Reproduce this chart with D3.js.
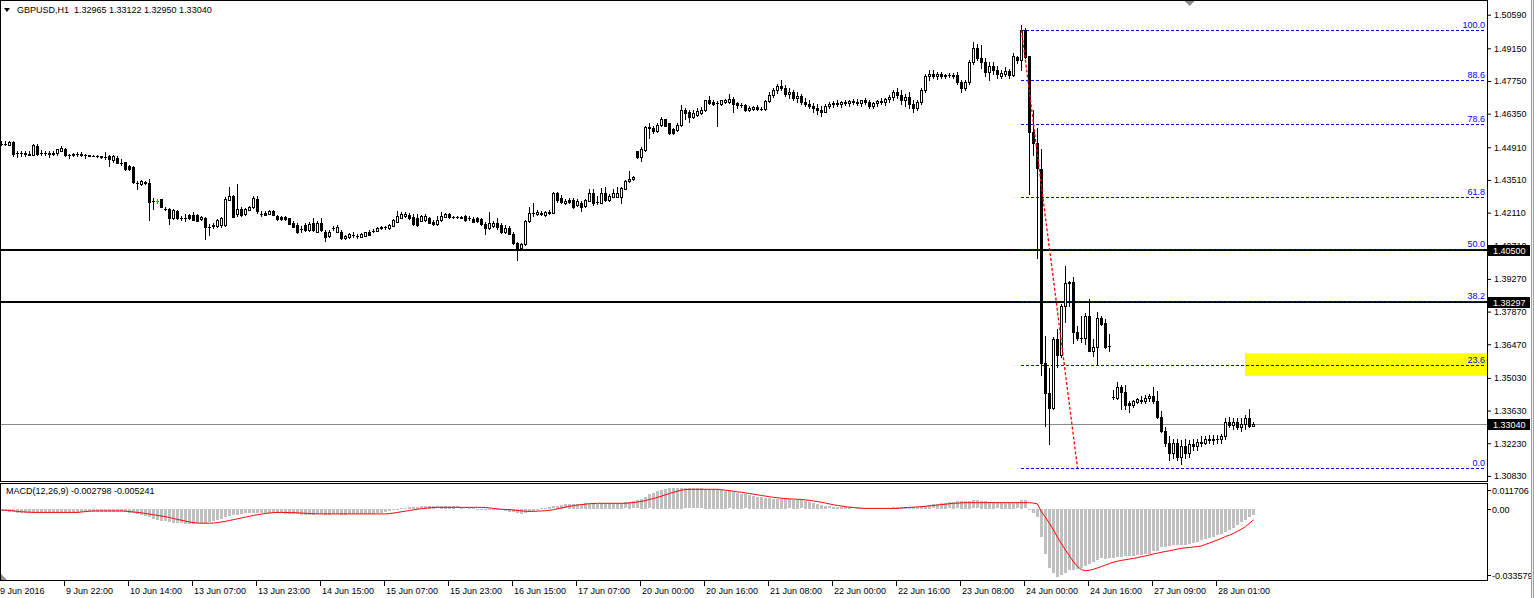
<!DOCTYPE html>
<html><head><meta charset="utf-8">
<script src="https://cdn.jsdelivr.net/npm/d3@7"></script>
<style>
html,body{margin:0;padding:0;background:#fff;overflow:hidden;}
svg{display:block;font-family:"Liberation Sans",Arial,sans-serif;}
</style></head><body>
<svg id="chart" width="1534" height="598"></svg>
<script>
// ---------------- DATA (GBPUSD H1) ----------------
const symbol = "GBPUSD,H1";
const lastQuote = ["1.32965", "1.33122", "1.32950", "1.33040"];
const macdTitle = "MACD(12,26,9) -0.002798 -0.005241";

const open = [
1.4507,1.4506,1.4502,1.4515,1.4467,1.4468,1.4467,1.4464,1.4459,1.4496,
1.4467,1.4468,1.4467,1.4464,1.4468,1.4477,1.4485,1.4456,1.4457,1.4461,
1.4463,1.4459,1.4456,1.4455,1.4453,1.4452,1.4450,1.4453,1.4435,1.4444,
1.4425,1.4427,1.4410,1.4406,1.4339,1.4332,1.4338,1.4339,1.4261,1.4261,
1.4268,1.4225,1.4228,1.4186,1.4218,1.4186,1.4190,1.4200,1.4200,1.4200,
1.4183,1.4190,1.4151,1.4155,1.4154,1.4157,1.4157,1.4265,1.4282,1.4203,
1.4228,1.4203,1.4222,1.4233,1.4271,1.4207,1.4211,1.4206,1.4218,1.4197,
1.4192,1.4192,1.4186,1.4168,1.4158,1.4140,1.4158,1.4136,1.4168,1.4130,
1.4168,1.4130,1.4111,1.4147,1.4130,1.4130,1.4101,1.4107,1.4115,1.4111,
1.4107,1.4111,1.4130,1.4133,1.4133,1.4144,1.4148,1.4143,1.4154,1.4172,
1.4190,1.4195,1.4201,1.4192,1.4190,1.4175,1.4178,1.4187,1.4172,1.4161,
1.4178,1.4192,1.4204,1.4192,1.4193,1.4191,1.4197,1.4187,1.4183,1.4187,
1.4183,1.4164,1.4144,1.4154,1.4168,1.4158,1.4126,1.4144,1.4118,1.4079,
1.4061,1.4076,1.4173,1.4208,1.4203,1.4211,1.4200,1.4211,1.4211,1.4294,
1.4275,1.4251,1.4265,1.4265,1.4242,1.4254,1.4240,1.4261,1.4294,1.4256,
1.4254,1.4297,1.4265,1.4279,1.4279,1.4279,1.4313,1.4346,1.4353,1.4474,
1.4450,1.4481,1.4578,1.4574,1.4560,1.4588,1.4610,1.4593,1.4570,1.4564,
1.4588,1.4652,1.4641,1.4621,1.4631,1.4638,1.4649,1.4692,1.4686,1.4681,
1.4678,1.4686,1.4686,1.4698,1.4681,1.4674,1.4672,1.4649,1.4655,1.4664,
1.4655,1.4657,1.4691,1.4716,1.4738,1.4755,1.4746,1.4721,1.4729,1.4704,
1.4712,1.4686,1.4678,1.4669,1.4661,1.4652,1.4644,1.4669,1.4678,1.4682,
1.4678,1.4686,1.4682,1.4691,1.4686,1.4682,1.4695,1.4686,1.4669,1.4682,
1.4691,1.4686,1.4699,1.4708,1.4729,1.4716,1.4695,1.4708,1.4678,1.4661,
1.4686,1.4738,1.4797,1.4806,1.4797,1.4806,1.4797,1.4802,1.4797,1.4802,
1.4772,1.4746,1.4772,1.4857,1.4917,1.4874,1.4857,1.4815,1.4840,1.4823,
1.4795,1.4806,1.4819,1.4802,1.4877,1.4863,1.4994,1.4880,1.4555,1.4510,
1.4399,1.3568,1.3440,1.3374,1.3670,1.3599,1.3810,1.3909,1.3912,1.3701,
1.3674,1.3673,1.3767,1.3620,1.3635,1.3758,1.3739,1.3640,1.3421,1.3417,
1.3464,1.3443,1.3397,1.3388,1.3399,1.3410,1.3406,1.3418,1.3427,1.3406,
1.3337,1.3277,1.3226,1.3179,1.3222,1.3166,1.3209,1.3179,1.3218,1.3209,
1.3230,1.3222,1.3243,1.3235,1.3243,1.3239,1.3252,1.3316,1.3303,1.3312,
1.3294,1.3307,1.3329,1.32965];

const high = [
1.4516,1.4516,1.4520,1.4520,1.4474,1.4477,1.4473,1.4477,1.4507,1.4503,
1.4479,1.4477,1.4473,1.4474,1.4477,1.4496,1.4490,1.4464,1.4467,1.4469,
1.4469,1.4464,1.4459,1.4457,1.4456,1.4453,1.4470,1.4460,1.4456,1.4452,
1.4439,1.4430,1.4413,1.4409,1.4346,1.4349,1.4345,1.4353,1.4272,1.4268,
1.4271,1.4234,1.4231,1.4225,1.4221,1.4195,1.4204,1.4204,1.4214,1.4204,
1.4195,1.4193,1.4161,1.4168,1.4184,1.4191,1.4277,1.4322,1.4285,1.4332,
1.4234,1.4230,1.4238,1.4281,1.4281,1.4218,1.4217,1.4221,1.4221,1.4200,
1.4195,1.4195,1.4190,1.4174,1.4165,1.4154,1.4165,1.4170,1.4190,1.4174,
1.4190,1.4136,1.4136,1.4154,1.4157,1.4136,1.4114,1.4123,1.4126,1.4120,
1.4123,1.4130,1.4136,1.4140,1.4148,1.4153,1.4154,1.4161,1.4183,1.4218,
1.4212,1.4212,1.4208,1.4204,1.4204,1.4201,1.4204,1.4191,1.4178,1.4195,
1.4212,1.4208,1.4208,1.4197,1.4197,1.4195,1.4201,1.4195,1.4191,1.4191,
1.4187,1.4170,1.4212,1.4174,1.4190,1.4165,1.4157,1.4153,1.4127,1.4084,
1.4080,1.4178,1.4233,1.4254,1.4221,1.4217,1.4217,1.4221,1.4298,1.4298,
1.4285,1.4268,1.4272,1.4272,1.4268,1.4259,1.4268,1.4311,1.4311,1.4281,
1.4318,1.4319,1.4289,1.4311,1.4320,1.4319,1.4350,1.4389,1.4370,1.4477,
1.4491,1.4584,1.4593,1.4580,1.4593,1.4621,1.4614,1.4597,1.4575,1.4593,
1.4674,1.4661,1.4652,1.4652,1.4661,1.4665,1.4695,1.4712,1.4695,1.4691,
1.4695,1.4699,1.4721,1.4708,1.4686,1.4682,1.4678,1.4669,1.4669,1.4674,
1.4665,1.4695,1.4729,1.4746,1.4763,1.4780,1.4759,1.4746,1.4738,1.4729,
1.4721,1.4704,1.4695,1.4682,1.4678,1.4669,1.4678,1.4686,1.4691,1.4695,
1.4691,1.4695,1.4695,1.4699,1.4699,1.4695,1.4704,1.4695,1.4686,1.4695,
1.4704,1.4704,1.4716,1.4738,1.4746,1.4738,1.4721,1.4729,1.4695,1.4695,
1.4746,1.4806,1.4823,1.4823,1.4815,1.4815,1.4806,1.4810,1.4810,1.4815,
1.4780,1.4780,1.4866,1.4943,1.4934,1.4930,1.4874,1.4857,1.4857,1.4840,
1.4823,1.4835,1.4827,1.4894,1.4883,1.5015,1.5002,1.4883,1.4649,1.4574,
1.4482,1.3682,1.3545,1.3679,1.3713,1.3820,1.3981,1.3919,1.3934,1.3725,
1.3769,1.3781,1.3841,1.3670,1.3784,1.3767,1.3756,1.3692,1.3449,1.3485,
1.3474,1.3474,1.3406,1.3410,1.3418,1.3427,1.3431,1.3435,1.3465,1.3448,
1.3363,1.3294,1.3252,1.3243,1.3243,1.3235,1.3243,1.3235,1.3243,1.3243,
1.3252,1.3252,1.3260,1.3260,1.3260,1.3264,1.3329,1.3337,1.3329,1.3333,
1.3329,1.3346,1.3371,1.33122];

const low = [
1.4499,1.4499,1.4499,1.4452,1.4450,1.4452,1.4452,1.4456,1.4456,1.4460,
1.4459,1.4456,1.4450,1.4456,1.4460,1.4473,1.4452,1.4447,1.4452,1.4453,
1.4452,1.4447,1.4452,1.4452,1.4450,1.4447,1.4441,1.4409,1.4430,1.4422,
1.4417,1.4392,1.4392,1.4336,1.4311,1.4328,1.4335,1.4179,1.4225,1.4254,
1.4234,1.4221,1.4161,1.4183,1.4183,1.4178,1.4175,1.4183,1.4178,1.4174,
1.4178,1.4097,1.4114,1.4144,1.4148,1.4148,1.4153,1.4264,1.4191,1.4195,
1.4195,1.4200,1.4221,1.4230,1.4208,1.4195,1.4200,1.4204,1.4200,1.4178,
1.4180,1.4180,1.4161,1.4148,1.4122,1.4126,1.4131,1.4131,1.4131,1.4127,
1.4131,1.4090,1.4106,1.4136,1.4127,1.4097,1.4097,1.4103,1.4107,1.4103,
1.4106,1.4110,1.4114,1.4126,1.4131,1.4140,1.4141,1.4140,1.4153,1.4170,
1.4187,1.4191,1.4183,1.4157,1.4154,1.4174,1.4174,1.4165,1.4157,1.4157,
1.4174,1.4191,1.4188,1.4188,1.4188,1.4187,1.4174,1.4178,1.4170,1.4171,
1.4157,1.4118,1.4140,1.4148,1.4140,1.4122,1.4123,1.4118,1.4076,1.4008,
1.4055,1.4072,1.4170,1.4197,1.4200,1.4200,1.4195,1.4204,1.4208,1.4255,
1.4251,1.4247,1.4251,1.4230,1.4238,1.4218,1.4235,1.4259,1.4242,1.4247,
1.4251,1.4261,1.4259,1.4277,1.4277,1.4251,1.4311,1.4341,1.4349,1.4447,
1.4432,1.4474,1.4531,1.4554,1.4557,1.4584,1.4580,1.4550,1.4546,1.4561,
1.4584,1.4610,1.4598,1.4618,1.4627,1.4635,1.4648,1.4678,1.4674,1.4581,
1.4674,1.4682,1.4682,1.4640,1.4661,1.4665,1.4648,1.4647,1.4652,1.4652,
1.4651,1.4652,1.4686,1.4708,1.4725,1.4738,1.4712,1.4704,1.4695,1.4686,
1.4678,1.4669,1.4661,1.4644,1.4635,1.4627,1.4640,1.4661,1.4665,1.4669,
1.4665,1.4674,1.4669,1.4678,1.4674,1.4669,1.4678,1.4661,1.4661,1.4669,
1.4678,1.4674,1.4686,1.4695,1.4704,1.4678,1.4669,1.4661,1.4644,1.4652,
1.4678,1.4729,1.4780,1.4789,1.4785,1.4789,1.4789,1.4793,1.4789,1.4763,
1.4729,1.4738,1.4763,1.4849,1.4866,1.4832,1.4797,1.4780,1.4806,1.4789,
1.4789,1.4795,1.4788,1.4797,1.4852,1.4823,1.4874,1.4292,1.4460,1.4015,
1.3517,1.3298,1.3218,1.3371,1.3549,1.3593,1.3744,1.3810,1.3653,1.3667,
1.3656,1.3649,1.3619,1.3597,1.3563,1.3730,1.3632,1.3616,1.3414,1.3414,
1.3371,1.3368,1.3357,1.3380,1.3397,1.3397,1.3397,1.3406,1.3397,1.3329,
1.3269,1.3213,1.3149,1.3158,1.3149,1.3132,1.3158,1.3166,1.3192,1.3192,
1.3209,1.3218,1.3226,1.3218,1.3226,1.3226,1.3243,1.3294,1.3286,1.3286,
1.3277,1.3286,1.3294,1.32950];

const close = [
1.4506,1.4507,1.4515,1.4464,1.4468,1.4467,1.4464,1.4460,1.4500,1.4464,
1.4468,1.4467,1.4464,1.4468,1.4482,1.4489,1.4456,1.4457,1.4461,1.4463,
1.4459,1.4457,1.4455,1.4453,1.4452,1.4450,1.4449,1.4439,1.4452,1.4425,
1.4424,1.4399,1.4396,1.4342,1.4340,1.4346,1.4341,1.4257,1.4260,1.4261,
1.4237,1.4226,1.4186,1.4221,1.4186,1.4187,1.4189,1.4186,1.4180,1.4176,
1.4194,1.4151,1.4150,1.4157,1.4180,1.4186,1.4268,1.4282,1.4194,1.4228,
1.4200,1.4225,1.4234,1.4275,1.4216,1.4206,1.4201,1.4218,1.4201,1.4183,
1.4183,1.4183,1.4164,1.4150,1.4130,1.4139,1.4136,1.4164,1.4136,1.4168,
1.4136,1.4107,1.4130,1.4146,1.4150,1.4101,1.4111,1.4118,1.4116,1.4110,
1.4118,1.4126,1.4115,1.4132,1.4144,1.4151,1.4149,1.4158,1.4178,1.4197,
1.4204,1.4207,1.4187,1.4161,1.4158,1.4197,1.4197,1.4168,1.4161,1.4178,
1.4197,1.4204,1.4192,1.4193,1.4191,1.4190,1.4178,1.4186,1.4171,1.4175,
1.4161,1.4143,1.4168,1.4168,1.4150,1.4126,1.4144,1.4121,1.4079,1.4061,
1.4076,1.4173,1.4211,1.4210,1.4214,1.4203,1.4214,1.4212,1.4294,1.4265,
1.4255,1.4262,1.4255,1.4233,1.4259,1.4233,1.4265,1.4297,1.4251,1.4257,
1.4297,1.4265,1.4282,1.4297,1.4297,1.4316,1.4346,1.4356,1.4365,1.4450,
1.4484,1.4578,1.4572,1.4560,1.4588,1.4610,1.4584,1.4553,1.4553,1.4588,
1.4652,1.4638,1.4621,1.4638,1.4645,1.4652,1.4692,1.4681,1.4678,1.4680,
1.4692,1.4695,1.4698,1.4678,1.4672,1.4673,1.4652,1.4661,1.4664,1.4655,
1.4656,1.4691,1.4716,1.4738,1.4755,1.4746,1.4721,1.4729,1.4704,1.4712,
1.4686,1.4678,1.4669,1.4661,1.4652,1.4644,1.4669,1.4678,1.4682,1.4678,
1.4686,1.4682,1.4691,1.4686,1.4682,1.4695,1.4686,1.4669,1.4682,1.4691,
1.4686,1.4699,1.4708,1.4729,1.4716,1.4695,1.4708,1.4678,1.4661,1.4686,
1.4738,1.4797,1.4806,1.4797,1.4806,1.4797,1.4802,1.4800,1.4802,1.4772,
1.4746,1.4772,1.4857,1.4917,1.4874,1.4857,1.4815,1.4840,1.4823,1.4806,
1.4811,1.4819,1.4802,1.4883,1.4863,1.4994,1.4877,1.4555,1.4510,1.4403,
1.3568,1.3440,1.3374,1.3670,1.3599,1.3810,1.3909,1.3915,1.3701,1.3673,
1.3675,1.3767,1.3620,1.3635,1.3758,1.3734,1.3635,1.3638,1.3420,1.3464,
1.3443,1.3385,1.3388,1.3402,1.3411,1.3406,1.3418,1.3427,1.3406,1.3337,
1.3277,1.3226,1.3179,1.3222,1.3166,1.3209,1.3179,1.3218,1.3209,1.3230,
1.3222,1.3243,1.3235,1.3243,1.3239,1.3252,1.3316,1.3303,1.3312,1.3294,
1.3307,1.3329,1.3297,1.33040];

// MACD main (histogram) and signal line
const macdMain = [
-0.0010,-0.0010,-0.0012,-0.0016,-0.0018,-0.0018,-0.0018,-0.0018,-0.0018,-0.0017,
-0.0017,-0.0017,-0.0017,-0.0017,-0.0017,-0.0017,-0.0017,-0.0017,-0.0017,-0.0017,
-0.0013,-0.0012,-0.0012,-0.0012,-0.0012,-0.0012,-0.0012,-0.0012,-0.0012,-0.0012,
-0.0014,-0.0016,-0.0018,-0.0020,-0.0025,-0.0030,-0.0035,-0.0040,-0.0045,-0.0050,
-0.0055,-0.0058,-0.0061,-0.0064,-0.0066,-0.0068,-0.0069,-0.0069,-0.0069,-0.0068,
-0.0066,-0.0064,-0.0062,-0.0058,-0.0053,-0.0047,-0.0040,-0.0034,-0.0030,-0.0026,
-0.0023,-0.0020,-0.0018,-0.0018,-0.0019,-0.0019,-0.0019,-0.0020,-0.0020,-0.0021,
-0.0021,-0.0022,-0.0023,-0.0024,-0.0025,-0.0026,-0.0026,-0.0026,-0.0026,-0.0025,
-0.0025,-0.0026,-0.0026,-0.0025,-0.0025,-0.0026,-0.0026,-0.0025,-0.0025,-0.0024,
-0.0024,-0.0023,-0.0023,-0.0022,-0.0020,-0.0018,-0.0015,-0.0010,-0.0005,0.0000,
0.0003,0.0006,0.0008,0.0009,0.0010,0.0011,0.0012,0.0012,0.0012,0.0011,
0.0012,0.0013,0.0013,0.0012,0.0011,0.0009,0.0007,0.0005,0.0003,0.0001,
-0.0001,-0.0002,-0.0002,-0.0003,-0.0004,-0.0005,-0.0008,-0.0012,-0.0016,-0.0020,
-0.0022,-0.0018,-0.0012,-0.0008,-0.0003,0.0002,0.0005,0.0008,0.0011,0.0014,
0.0018,0.0021,0.0023,0.0025,0.0025,0.0025,0.0026,0.0025,0.0026,0.0025,
0.0026,0.0026,0.0026,0.0027,0.0028,0.0029,0.0030,0.0032,0.0035,0.0040,
0.0048,0.0058,0.0068,0.0076,0.0084,0.0090,0.0094,0.0097,0.0098,0.0097,
0.0097,0.0096,0.0096,0.0096,0.0096,0.0096,0.0095,0.0095,0.0094,0.0092,
0.0088,0.0085,0.0082,0.0078,0.0075,0.0072,0.0068,0.0064,0.0060,0.0058,
0.0056,0.0052,0.0050,0.0048,0.0047,0.0046,0.0045,0.0044,0.0043,0.0042,
0.0040,0.0036,0.0032,0.0027,0.0022,0.0017,0.0013,0.0011,0.0010,0.0010,
0.0010,0.0009,0.0008,0.0007,0.0005,0.0004,0.0003,0.0003,0.0003,0.0003,
0.0004,0.0005,0.0006,0.0008,0.0010,0.0010,0.0010,0.0009,0.0009,0.0010,
0.0012,0.0015,0.0018,0.0021,0.0024,0.0026,0.0028,0.0030,0.0033,0.0035,
0.0036,0.0037,0.0038,0.0040,0.0040,0.0039,0.0036,0.0033,0.0031,0.0030,
0.0029,0.0029,0.0028,0.0029,0.0030,0.0041,0.0040,-0.0005,-0.0017,-0.0040,
-0.0131,-0.0210,-0.0276,-0.0301,-0.0320,-0.0313,-0.0301,-0.0286,-0.0286,-0.0281,
-0.0276,-0.0270,-0.0258,-0.0249,-0.0241,-0.0233,-0.0238,-0.0233,-0.0229,-0.0228,
-0.0226,-0.0224,-0.0222,-0.0220,-0.0218,-0.0216,-0.0214,-0.0212,-0.0200,-0.0196,
-0.0180,-0.0178,-0.0176,-0.0172,-0.0170,-0.0170,-0.0168,-0.0166,-0.0162,-0.0158,
-0.0148,-0.0142,-0.0136,-0.0130,-0.0125,-0.0116,-0.0108,-0.0100,-0.0088,-0.0076,
-0.0062,-0.0050,-0.0040,-0.0028];

const macdSignal = [
-0.0006,-0.0007,-0.0008,-0.0010,-0.0012,-0.0014,-0.0015,-0.0016,-0.0017,-0.0017,
-0.0017,-0.0017,-0.0017,-0.0017,-0.0017,-0.0017,-0.0017,-0.0017,-0.0017,-0.0017,
-0.0015,-0.0013,-0.0011,-0.0010,-0.0010,-0.0010,-0.0010,-0.0010,-0.0010,-0.0010,
-0.0010,-0.0011,-0.0013,-0.0015,-0.0017,-0.0019,-0.0022,-0.0025,-0.0028,-0.0031,
-0.0034,-0.0037,-0.0041,-0.0046,-0.0050,-0.0054,-0.0058,-0.0062,-0.0065,-0.0067,
-0.0068,-0.0068,-0.0068,-0.0067,-0.0065,-0.0062,-0.0059,-0.0055,-0.0051,-0.0047,
-0.0043,-0.0039,-0.0035,-0.0031,-0.0028,-0.0025,-0.0022,-0.0020,-0.0018,-0.0017,
-0.0017,-0.0017,-0.0018,-0.0018,-0.0019,-0.0020,-0.0021,-0.0022,-0.0023,-0.0024,
-0.0024,-0.0024,-0.0024,-0.0024,-0.0024,-0.0024,-0.0024,-0.0024,-0.0024,-0.0024,
-0.0024,-0.0024,-0.0024,-0.0024,-0.0024,-0.0024,-0.0024,-0.0022,-0.0020,-0.0017,
-0.0014,-0.0011,-0.0008,-0.0005,-0.0002,0.0001,0.0003,0.0005,0.0006,0.0007,
0.0007,0.0007,0.0007,0.0007,0.0007,0.0007,0.0007,0.0007,0.0007,0.0007,
0.0007,0.0006,0.0004,0.0002,0.0000,-0.0002,-0.0003,-0.0004,-0.0006,-0.0008,
-0.0010,-0.0011,-0.0012,-0.0012,-0.0011,-0.0010,-0.0009,-0.0007,-0.0004,0.0000,
0.0004,0.0008,0.0012,0.0015,0.0018,0.0020,0.0022,0.0024,0.0025,0.0026,
0.0026,0.0026,0.0026,0.0026,0.0026,0.0026,0.0026,0.0028,0.0030,0.0032,
0.0035,0.0039,0.0044,0.0049,0.0054,0.0060,0.0066,0.0072,0.0078,0.0083,
0.0088,0.0091,0.0092,0.0092,0.0092,0.0092,0.0092,0.0092,0.0092,0.0092,
0.0090,0.0088,0.0086,0.0083,0.0080,0.0078,0.0075,0.0072,0.0069,0.0066,
0.0063,0.0060,0.0057,0.0054,0.0052,0.0050,0.0048,0.0047,0.0046,0.0045,
0.0044,0.0042,0.0040,0.0037,0.0034,0.0031,0.0027,0.0023,0.0019,0.0016,
0.0013,0.0010,0.0008,0.0006,0.0004,0.0003,0.0002,0.0002,0.0002,0.0002,
0.0002,0.0002,0.0002,0.0002,0.0002,0.0004,0.0006,0.0007,0.0008,0.0009,
0.0010,0.0012,0.0014,0.0016,0.0018,0.0020,0.0022,0.0024,0.0026,0.0027,
0.0028,0.0029,0.0029,0.0029,0.0029,0.0029,0.0029,0.0029,0.0029,0.0029,
0.0029,0.0029,0.0029,0.0029,0.0029,0.0029,0.0029,0.0029,0.0027,0.0023,
-0.0015,-0.0040,-0.0069,-0.0100,-0.0135,-0.0165,-0.0195,-0.0222,-0.0250,-0.0272,
-0.0287,-0.0292,-0.0290,-0.0285,-0.0279,-0.0272,-0.0265,-0.0258,-0.0252,-0.0247,
-0.0243,-0.0240,-0.0237,-0.0234,-0.0230,-0.0226,-0.0222,-0.0218,-0.0213,-0.0209,
-0.0205,-0.0201,-0.0198,-0.0194,-0.0190,-0.0186,-0.0184,-0.0182,-0.0180,-0.0178,
-0.0175,-0.0168,-0.0161,-0.0154,-0.0147,-0.0139,-0.0131,-0.0124,-0.0116,-0.0106,
-0.0096,-0.0084,-0.0068,-0.0052];

const priceTicks = [1.50590,1.49150,1.47750,1.46350,1.44910,1.43510,1.42110,1.40710,
                    1.39270,1.37870,1.36470,1.35030,1.33630,1.32230,1.30830];
const macdTicks = [0.011706, 0.00, -0.033579];
const macdTickLabels = ["0.011706", "0.00", "-0.033579"];
const timeLabels = ["9 Jun 2016","9 Jun 22:00","10 Jun 14:00","13 Jun 07:00","13 Jun 23:00",
  "14 Jun 15:00","15 Jun 07:00","15 Jun 23:00","16 Jun 15:00","17 Jun 07:00","20 Jun 00:00",
  "20 Jun 16:00","21 Jun 08:00","22 Jun 00:00","22 Jun 16:00","23 Jun 08:00","24 Jun 00:00",
  "24 Jun 16:00","27 Jun 09:00","28 Jun 01:00"];
const timeLabelStep = 16; // one label every 16 bars

const hLevels = [1.40500, 1.38297];           // black horizontal lines
const hLevelLabels = ["1.40500", "1.38297"];
const fibHigh = 1.4994, fibLow = 1.3117;      // fibonacci anchors
const fibStartBar = 255, fibEndBar = 269;
const fibLevels = [0.0, 23.6, 38.2, 50.0, 61.8, 78.6, 88.6, 100.0];
const zoneTop = 1.3608, zoneBottom = 1.3512, zoneStartBar = 311; // yellow zone

// ---------------- DRAWING ----------------
const N = Math.min(open.length, high.length, low.length, close.length);
const W = 1534, H = 598;
const PR = 1487;            // right edge of plot panels
const mainBot = 481, macdTop = 483, macdBot = 580;

const svg = d3.select("#chart");
svg.append("rect").attr("width", W).attr("height", H).attr("fill", "#fff");

const x = d3.scaleLinear().domain([0, N - 1]).range([1, 1 + 4 * (N - 1)]);
const y = d3.scaleLinear().domain([1.30830, 1.50590]).range([475.9, 14.7]);
const ym = d3.scaleLinear().domain([-0.033579, 0.011706]).range([580, 484]);

svg.append("defs").append("clipPath").attr("id", "clipMain")
  .append("rect").attr("x", 0).attr("y", 0).attr("width", PR).attr("height", mainBot);

const gMain = svg.append("g").attr("clip-path", "url(#clipMain)");

// yellow zone
gMain.append("rect")
  .attr("x", x(zoneStartBar)).attr("y", y(zoneTop))
  .attr("width", PR - x(zoneStartBar)).attr("height", y(zoneBottom) - y(zoneTop))
  .attr("fill", "#ffff00");

// horizontal black levels
gMain.selectAll("line.hl").data(hLevels).enter().append("line")
  .attr("x1", 0).attr("x2", PR)
  .attr("y1", d => Math.round(y(d))).attr("y2", d => Math.round(y(d)))
  .attr("stroke", "#000").attr("stroke-width", 2);

// current price line
const lastClose = close[N - 1];
gMain.append("line").attr("x1", 0).attr("x2", PR)
  .attr("y1", Math.round(y(lastClose)) + 0.5).attr("y2", Math.round(y(lastClose)) + 0.5)
  .attr("stroke", "#8c8c8c").attr("stroke-width", 1);

// fibonacci levels
const fibPrice = l => fibLow + (fibHigh - fibLow) * l / 100;
const fx0 = x(fibStartBar);
gMain.selectAll("line.fib").data(fibLevels).enter().append("line")
  .attr("x1", fx0).attr("x2", PR - 3)
  .attr("y1", d => Math.round(y(fibPrice(d))) + 0.5).attr("y2", d => Math.round(y(fibPrice(d))) + 0.5)
  .attr("stroke", "#0000ff").attr("stroke-width", 1).attr("stroke-dasharray", "3,2");
gMain.selectAll("text.fib").data(fibLevels).enter().append("text")
  .attr("x", PR - 2).attr("y", d => Math.round(y(fibPrice(d))) - 2)
  .attr("text-anchor", "end").attr("font-size", 9).attr("fill", "#0000ff")
  .text(d => d.toFixed(1));

// candles
const bars = d3.range(N);
const cg = gMain.append("g");
bars.forEach(i => {
  const cx = x(i);
  const o = open[i], c = close[i];
  const yH = Math.round(y(high[i])), yL = Math.round(y(low[i]));
  const yT = Math.round(y(Math.max(o, c))), yB = Math.round(y(Math.min(o, c)));
  const doji = o === c;
  const col = doji ? "#00c800" : "#000";
  cg.append("line").attr("x1", cx + 0.5).attr("x2", cx + 0.5)
    .attr("y1", yH).attr("y2", yL + 1).attr("stroke", col).attr("stroke-width", 1);
  if (c > o) {
    cg.append("rect").attr("x", cx - 0.5).attr("y", yT + 0.5)
      .attr("width", 2).attr("height", Math.max(yB - yT, 0.001))
      .attr("fill", "#fff").attr("stroke", "#000").attr("stroke-width", 1);
  } else {
    cg.append("rect").attr("x", cx - 1).attr("y", yT)
      .attr("width", 3).attr("height", Math.max(yB - yT + 1, 1)).attr("fill", col);
  }
});

// red dashed trend line between the fibonacci anchors
gMain.append("line")
  .attr("x1", x(fibStartBar) + 0.5).attr("y1", y(fibHigh))
  .attr("x2", x(fibEndBar) + 0.5).attr("y2", y(fibLow))
  .attr("stroke", "#ff0000").attr("stroke-width", 1.3).attr("stroke-dasharray", "3,2");

// header
svg.append("path").attr("d", "M4,8 L10,8 L7,12 Z").attr("fill", "#000");
svg.append("text").attr("x", 17).attr("y", 13).attr("font-size", 9).attr("fill", "#000")
  .attr("xml:space", "preserve")
  .text(symbol + "  " + lastQuote.join(" "));

// chart shift marker
svg.append("path").attr("d", `M${PR*0.8-5},1 L${PR*0.8+5},1 L${PR*0.8},6 Z`).attr("fill", "#8c8c8c");

// ---------- MACD panel ----------
const gM = svg.append("g");
const y0 = ym(0);
gM.selectAll("rect.h").data(bars).enter().append("rect")
  .attr("x", i => x(i) - 1)
  .attr("y", i => Math.round(Math.min(y0, ym(macdMain[i]))))
  .attr("width", 3)
  .attr("height", i => Math.max(1, Math.round(Math.abs(ym(macdMain[i]) - y0))))
  .attr("fill", "#c0c0c0");
gM.append("path")
  .datum(bars)
  .attr("d", d3.line().x(i => x(i) + 0.5).y(i => ym(macdSignal[i])))
  .attr("fill", "none").attr("stroke", "#ff0000").attr("stroke-width", 1);
svg.append("text").attr("x", 6).attr("y", 494).attr("font-size", 9).attr("fill", "#000")
  .text(macdTitle);
svg.append("path").attr("d", "M1,574 L1,580 L7,580 Z").attr("fill", "#8c8c8c");

// ---------- panel borders ----------
svg.append("rect").attr("x", 0.5).attr("y", 0.5).attr("width", PR).attr("height", mainBot)
  .attr("fill", "none").attr("stroke", "#000");
svg.append("rect").attr("x", 0.5).attr("y", macdTop + 0.5).attr("width", PR).attr("height", macdBot - macdTop)
  .attr("fill", "none").attr("stroke", "#000");

// ---------- right price axis ----------
const axR = d3.axisRight(y).tickValues(priceTicks).tickSize(3).tickPadding(3)
  .tickFormat(d3.format(".5f"));
const gAx = svg.append("g").attr("transform", `translate(${PR + 1},0)`).call(axR);
gAx.select(".domain").remove();
gAx.selectAll("text").attr("font-size", 9).attr("fill", "#000").attr("font-family", "Liberation Sans, Arial, sans-serif");
gAx.selectAll("line").attr("stroke", "#000");

// price boxes (levels and last price)
const boxVals = hLevels.concat([lastClose]);
const boxLabels = hLevelLabels.concat([lastQuote[3]]);
boxVals.forEach((v, k) => {
  const yy = Math.round(y(v));
  svg.append("rect").attr("x", PR + 1).attr("y", yy - 5).attr("width", 42).attr("height", 11).attr("fill", "#000");
  svg.append("text").attr("x", PR + 6).attr("y", yy + 4).attr("font-size", 9).attr("fill", "#fff").text(boxLabels[k]);
});

// ---------- MACD axis ----------
macdTicks.forEach((v, k) => {
  const yy = Math.round(Math.max(490, Math.min(575, ym(v))));
  svg.append("line").attr("x1", PR + 1).attr("x2", PR + 4).attr("y1", yy + 0.5).attr("y2", yy + 0.5).attr("stroke", "#000");
  svg.append("text").attr("x", PR + 5).attr("y", yy + 3.5).attr("font-size", 9).attr("fill", "#000").text(macdTickLabels[k]);
});

// ---------- time axis ----------
const tIdx = timeLabels.map((_, k) => k * timeLabelStep);
const gT = svg.append("g");
tIdx.forEach((bi, k) => {
  const tx = x(bi);
  if (k > 0) gT.append("line").attr("x1", tx - 0.5).attr("x2", tx - 0.5).attr("y1", macdBot + 1).attr("y2", macdBot + 6).attr("stroke", "#000");
  gT.append("text").attr("x", k === 0 ? 0 : tx + 1).attr("y", 594).attr("font-size", 9).attr("fill", "#000").text(timeLabels[k]);
});

// window edge on the right
svg.append("rect").attr("x", 1531).attr("y", 0).attr("width", 3).attr("height", H).attr("fill", "#f0f0f0");
svg.append("line").attr("x1", 1531.5).attr("x2", 1531.5).attr("y1", 0).attr("y2", H).attr("stroke", "#a0a0a0");
svg.append("line").attr("x1", 1533.5).attr("x2", 1533.5).attr("y1", 0).attr("y2", H).attr("stroke", "#a0a0a0");
</script>
</body></html>
